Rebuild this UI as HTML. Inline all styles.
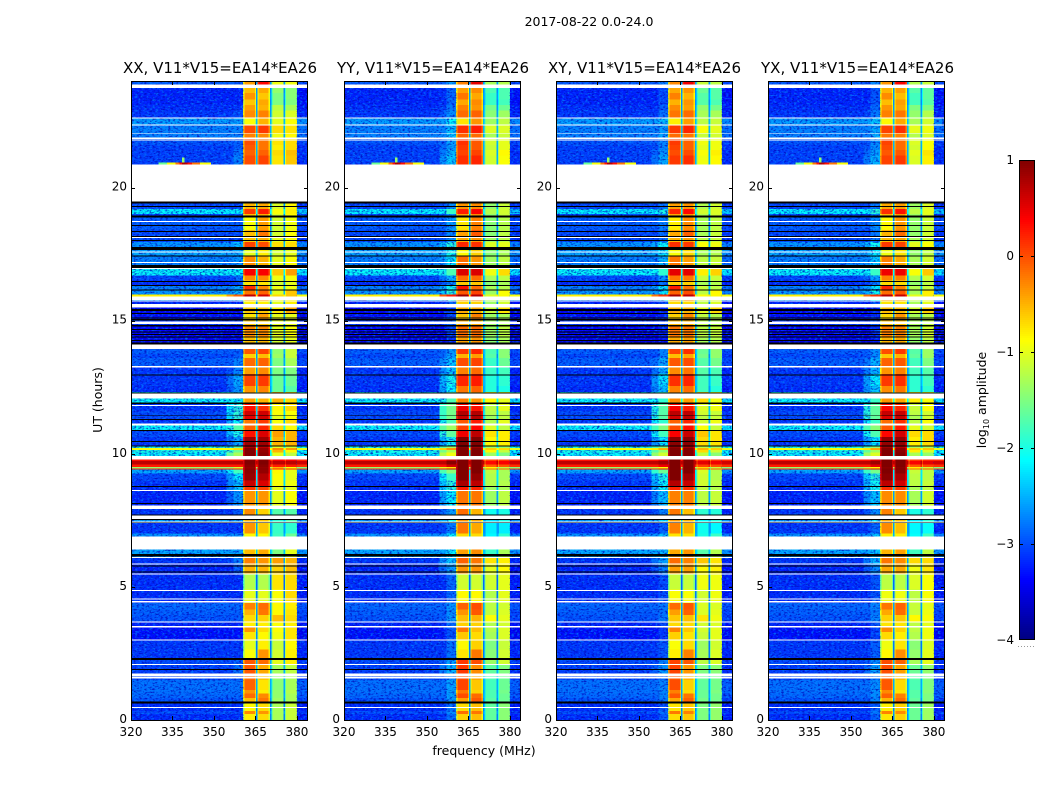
<!DOCTYPE html>
<html lang="en">
<head>
<meta charset="utf-8">
<title>2017-08-22 spectrograms</title>
<style>
html,body{margin:0;padding:0;background:#fff;}
svg{display:block;}
text{font-family:"DejaVu Sans","Liberation Sans",sans-serif;fill:#000;}
.tick{font-size:12px;}
.title{font-size:15px;}
.label{font-size:12.5px;}
</style>
</head>
<body>
<svg id="figure" xmlns="http://www.w3.org/2000/svg" width="1050" height="800" viewBox="0 0 1050 800">
  <defs>
    <filter id="speckle-light" x="0" y="0" width="1" height="1" color-interpolation-filters="sRGB">
      <feTurbulence type="fractalNoise" baseFrequency="0.34 0.6" numOctaves="2" seed="3"/>
      <feColorMatrix type="matrix" values="0 0 0 0 0  0 0 0 0 0.52  0 0 0 0 1  3.8 0 0 0 -1.85"/>
    </filter>
    <filter id="speckle-dark" x="0" y="0" width="1" height="1" color-interpolation-filters="sRGB">
      <feTurbulence type="fractalNoise" baseFrequency="0.38 0.64" numOctaves="2" seed="11"/>
      <feColorMatrix type="matrix" values="0 0 0 0 0  0 0 0 0 0.02  0 0 0 0 0.72  0 3.8 0 0 -1.85"/>
    </filter>
  </defs>
  <text x="589" y="26" text-anchor="middle" class="label">2017-08-22 0.0-24.0</text>
  <text x="484" y="755" text-anchor="middle" class="label">frequency (MHz)</text>
  <text transform="translate(102,400) rotate(-90)" text-anchor="middle" class="label">UT (hours)</text>
  <text transform="translate(986,400) rotate(-90)" text-anchor="middle" class="label">log<tspan font-size="8" dy="3">10</tspan><tspan dy="-3"> amplitude</tspan></text>
  <g id="panels"></g>
  <g id="colorbar"></g>
</svg>
<script>
// ---------- categories and tick labels ----------
const panelTitles = ["XX, V11*V15=EA14*EA26","YY, V11*V15=EA14*EA26","XY, V11*V15=EA14*EA26","YX, V11*V15=EA14*EA26"];
const xTicks = [320,335,350,365,380];
const yTicks = [0,5,10,15,20];
const colorTicks = [1,0,-1,-2,-3,-4];

// ---------- spectrogram strips: UT start hour and log10 amplitude per band ----------
const stripStart = [0,0.22,0.33,0.63,0.82,1.0,1.12,1.5,1.75,2.1,2.33,2.65,3.0,3.3,3.5,3.7,3.95,4.15,4.4,4.9,5.5,5.87,6.1,6.88,7.0,7.45,7.55,8.05,8.6,8.75,9.0,9.25,9.41,9.45,9.5,9.6,9.72,9.915,10.05,10.15,10.22,10.31,10.62,10.9,11.13,11.3,11.45,11.6,11.87,12.31,12.55,13.0,13.3,13.6,13.75,14.11,14.4,14.8,15.0,15.25,15.5,15.72,15.91,15.98,16.17,16.3,16.5,16.7,16.98,17.09,17.45,17.77,17.95,18.1,18.4,18.87,18.95,19.0,19.2,20.86,21.2,21.4,21.6,21.87,22.05,22.36,22.63,22.9,23.1,23.3,23.55,23.87];
const stripBg = [-3.05,-2.9,-3.05,-2.85,-2.75,-2.7,-2.7,-2.9,-2.95,-2.9,-3.0,-3.0,-3.2,-3.2,-3.1,-2.85,-2.8,-2.75,-3.05,-3.05,-3.1,-3.0,-2.4,-2.5,-3.0,-2.4,-3.0,-3.1,-3.05,-3.0,-2.9,-2.4,0.25,-1.4,0.25,0.7,0.3,-2.1,-2.0,-0.9,-2.0,-3.0,-2.9,-2.1,-3.0,-2.9,-2.9,-3.0,-2.1,-3.05,-3.0,-3.0,-2.8,-2.9,-2.8,-3.35,-3.25,-3.0,-3.2,-3.3,-3.1,-2.5,-0.8,-2.5,-2.6,-3.05,-2.9,-2.1,-2.6,-2.6,-2.4,-2.5,-2.9,-2.9,-2.8,-3.0,-2.9,-2.15,-2.9,-2.95,-2.95,-2.95,-2.85,-2.6,-2.6,-2.45,-3.0,-3.05,-3.1,-3.1,-3.1,-2.8];
const stripShoulder = [-2.95,-2.8,-2.95,-2.75,-2.7,-2.7,-2.7,-2.85,-2.6,-2.7,-2.95,-2.95,-3.1,-3.1,-3.0,-2.75,-2.8,-2.75,-3.0,-3.0,-2.7,-2.5,-2.4,-2.4,-2.9,-2.3,-2.7,-2.4,-2.2,-2.2,-2.1,-1.7,0.4,-1.0,0.35,0.7,0.4,-1.2,-1.5,-0.6,-1.6,-2.3,-1.9,-1.6,-2.0,-1.8,-1.8,-1.8,-2.0,-2.4,-2.3,-2.5,-2.5,-2.7,-2.7,-3.3,-3.2,-3.0,-3.2,-3.2,-3.0,-2.3,0.0,-2.2,-2.3,-2.8,-2.6,-2.0,-2.4,-2.4,-2.3,-2.2,-2.8,-2.8,-2.7,-2.9,-2.8,-2.1,-2.8,-2.5,-2.6,-2.7,-2.7,-2.5,-2.55,-2.4,-2.8,-2.9,-3.0,-3.0,-3.0,-2.7];
const stripA = [-0.8,-0.3,-0.85,-0.55,-0.15,-0.35,-0.1,-0.15,-0.05,-0.05,-0.9,-1.0,-0.75,-0.35,-0.8,-0.7,-0.5,-0.25,-1.0,-1.25,-0.5,-0.25,-0.55,-0.85,-0.35,-0.5,-0.3,-0.35,0.1,0.65,0.9,0.95,0.95,0.9,0.95,1,0.95,1,1,1,0.8,0.85,0.3,-0.1,-0.2,0.5,0.6,0.3,-0.4,-0.35,0.05,-0.4,-0.15,-0.65,-0.05,-0.55,-0.3,-0.6,-0.75,-0.6,-0.8,-0.5,0.7,-0.2,0.15,-0.75,-0.3,0.4,0.35,-0.3,-1.0,0.05,-0.6,-0.55,-0.9,-0.7,-0.55,0.1,-0.5,0,-0.1,-0.05,0,-0.25,0,-0.9,-0.3,-0.4,-0.6,-0.35,-0.55,-0.4];
const stripB = [-0.7,-0.35,-0.7,-0.2,-0.3,-0.8,-0.75,-0.6,-0.45,-0.15,-0.35,-0.8,-0.85,-0.7,-0.8,-0.65,-0.2,-0.15,-1.0,-1.25,-0.5,-0.35,-0.45,-0.85,-0.6,-0.6,-0.65,-0.35,0.05,0.55,0.75,0.9,0.95,0.9,0.95,1,0.95,0.95,0.9,0.9,0.7,0.85,0.55,0.2,0.1,0.6,0.6,0.15,-0.5,-0.25,0.1,-0.3,-0.1,-0.55,0.05,-0.5,-0.3,-0.6,-0.4,-0.6,-0.8,-0.4,0.6,-0.1,-0.3,-0.75,-0.3,0.4,0.3,-0.5,-0.8,0,-0.5,-0.2,-0.4,-0.6,-0.45,0.25,-0.45,0.05,-0.1,-0.2,-0.2,-0.3,0.1,-0.5,-0.25,-0.5,-0.45,-0.6,-0.45,0.35];
const stripC = [-1.3,-1.3,-1.3,-1.35,-1.4,-1.4,-1.45,-1.4,-1.3,-1.0,-1.1,-1.15,-0.95,-0.9,-0.9,-0.55,-0.85,-0.85,-0.9,-0.75,-0.65,-0.4,-1.5,-1.8,-1.85,-1.9,-1.7,-1.0,-1.0,-0.9,-0.9,-0.85,0.2,-0.5,0.25,0.7,0.4,-1.0,-0.5,-0.3,-1.0,-0.5,-0.4,-0.7,-0.9,-1.0,-0.9,-0.85,-0.5,-1.6,-1.6,-1.5,-1.5,-1.35,-1.4,-1.1,-1.0,-1.0,-1.0,-0.8,-1.0,-0.9,-0.7,-1.0,-0.95,-1.1,-0.95,-0.6,-0.7,-1.0,-1.1,-0.7,-1.0,-1.1,-1.1,-1.1,-1.05,-0.9,-1.05,-0.75,-0.7,-0.8,-0.75,-0.95,-0.7,-1.0,-1.1,-1.2,-1.5,-1.5,-1.4,-0.95];
const stripD = [-1.15,-1.15,-1.15,-1.3,-1.3,-1.25,-1.3,-1.3,-1.2,-0.8,-0.8,-0.85,-0.75,-0.75,-0.8,-0.7,-0.75,-0.8,-0.7,-0.7,-0.55,-0.5,-1.0,-1.6,-1.9,-1.7,-1.7,-0.9,-1.0,-0.95,-1.0,-1.0,0.2,-0.9,0.25,0.7,0.4,-1.2,-0.85,-0.4,-1.1,-0.5,-0.5,-0.9,-0.7,-0.9,-0.9,-0.7,-0.7,-1.7,-1.6,-1.5,-1.3,-1.15,-1.15,-1.0,-0.9,-1.0,-1.0,-0.45,-0.8,-0.8,-0.6,-0.6,-0.95,-1.0,-0.9,-0.4,-0.5,-0.9,-1.0,-0.7,-0.9,-0.9,-0.95,-0.9,-0.85,-0.8,-0.85,-0.6,-0.55,-0.7,-0.7,-0.85,-0.75,-0.9,-1.05,-1.3,-1.5,-1.45,-1.45,-0.95];

// ---------- flagged integrations (UT start / end hours) ----------
const whiteStart = [23.74,22.59,22.32,22.02,21.83,21.76,19.47,18.71,18.095,17.558,17.172,16.946,15.774,15.718,15.493,14.873,13.934,13.232,12.082,11.80,11.053,9.791,8.60,7.924,7.549,7.417,6.411,6.084,5.847,5.457,4.845,4.533,4.405,3.654,3.481,2.978,2.065,1.652,1.566,0.45];
const whiteEnd = [23.87,22.63,22.36,22.05,21.87,21.80,20.86,18.74,18.133,17.596,17.202,16.976,15.906,15.755,15.624,14.959,14.110,13.295,12.27,11.831,11.128,9.915,8.638,8.048,7.672,7.455,6.884,6.12,5.877,5.509,4.882,4.57,4.469,3.706,3.53,3.031,2.103,1.753,1.626,0.488];
const blackStart = [19.399,19.267,18.865,18.553,18.328,18.14,17.99,17.652,17.408,16.976,16.442,16.30,16.123,15.361,15.248,15.08,15.004,14.772,14.647,14.554,14.459,14.366,14.234,14.11,12.938,12.27,11.868,11.41,11.267,10.862,10.448,10.28,8.758,8.112,7.687,7.511,7.395,6.133,5.758,5.532,2.253,1.877,0.627];
const blackEnd = [19.466,19.305,18.948,18.591,18.366,18.178,18.028,17.765,17.446,17.089,16.48,16.338,16.169,15.436,15.286,15.118,15.061,14.835,14.685,14.584,14.497,14.396,14.272,14.171,12.976,12.307,11.932,11.436,11.305,10.892,10.478,10.31,8.788,8.15,7.725,7.549,7.425,6.234,5.81,5.57,2.328,1.915,0.687];

// ---------- per-correlation level shifts ----------
const panelShoulderShift = [-0.1,0.25,0.1,0.15];
const panelShiftA = [0,0.15,0.1,0.05];
const panelShiftB = [0,0.15,0.1,0.05];
const panelShiftC = [0,-0.35,-0.2,-0.3];
const panelShiftD = [0,-0.3,-0.25,-0.2];
const noiseFloorShift = [-0.12];

// ---------- frequency channels ----------
const channelEdges = [320,354.5,357,360.5,361,364.8,365.2,365.7,366.1,369.7,370.2,370.8,371.2,375.2,375.7,376.1,380,384];
const channelSource = ["bg","sh","sh","a","a","a","gap","b","b","b","gap","c","c","gap","d","d","bg"];
const channelTrim = [0,-0.3,0,-0.5,0,-0.4,0,-0.4,0,-0.4,0,-0.5,0,0,-0.4,0,-0.1];

// ---------- narrow burst near 339 MHz just above the 20-21 h gap ----------
const burstMhz = [330,333,336,337.5,338.5,339.5,340.5,342,345,349];
const burstLevels = [-1.6,-0.9,-0.2,0.3,0.8,0.7,0.3,-0.2,-0.9,-1.6];
const spikeMhz = [338.8];
const spikeLevels = [-1.4];

// ---------- axis functions ----------
const panelLeft = [131,344,556,768];
const panelTitleCentre = [220,433,644.5,857.5];
const panelTitleWidth = [194,192,193,193];
const plotW = 177, plotTop = 81, plotBottom = 720;
const xScale = (p, mhz) => panelLeft[p] + (mhz - 320) * plotW / 64;
const yScale = h => plotBottom - h * (plotBottom - plotTop) / 24;
const cbTop = 160, cbBottom = 640, cbLeft = 1019, cbWidth = 16;
const cbScale = v => cbBottom - (v + 4) * (cbBottom - cbTop) / 5;

const clip = v => Math.max(0, Math.min(1, v));
function jet(level) {
  const t = clip((level + 4) / 5);
  const r = clip(1.5 - Math.abs(4 * t - 3));
  const g = clip(1.5 - Math.abs(4 * t - 2));
  const b = clip(1.5 - Math.abs(4 * t - 1));
  return "rgb(" + Math.round(r * 255) + "," + Math.round(g * 255) + "," + Math.round(b * 255) + ")";
}
const NS = "http://www.w3.org/2000/svg";
function mk(tag, attrs, parent) {
  const el = document.createElementNS(NS, tag);
  for (const k in attrs) el.setAttribute(k, attrs[k]);
  parent.appendChild(el);
  return el;
}
function stripLevel(source, s, p) {
  if (source === "bg") return stripBg[s];
  if (source === "sh") return stripShoulder[s] + panelShoulderShift[p];
  if (source === "a") return stripA[s] + panelShiftA[p];
  if (source === "b") return stripB[s] + panelShiftB[p];
  if (source === "c") return stripC[s] + panelShiftC[p];
  if (source === "d") return stripD[s] + panelShiftD[p];
  return Math.max(stripBg[s], -2.8 + (stripA[s] + 1) * 0.3);
}

const panelsRoot = document.getElementById("panels");
panelTitles.forEach(function (title, p) {
  const g = mk("g", {}, panelsRoot);
  
  

  const left = panelLeft[p];

  // heatmap cells: the noise floor sits under the speckle, bright rows above it
  const cells = mk("g", {"shape-rendering": "crispEdges"}, g);
  
  
  const textureLayer = mk("g", {}, g);
  
  
  const brightCells = mk("g", {"shape-rendering": "crispEdges"}, g);
  
  

  stripStart.forEach(function (start, s) {
    const end = s + 1 < stripStart.length ? stripStart[s + 1] : 24;
    channelSource.forEach(function (source, c) {
      let level = stripLevel(source, s, p) + channelTrim[c];
      const isFloor = source === "bg" || source === "sh";
      if (source === "sh") level = Math.max(stripBg[s], level);
      if (isFloor && level < -2.2) level += noiseFloorShift[0];
      const x0 = xScale(p, channelEdges[c]);
      const x1 = xScale(p, channelEdges[c + 1]);
      const y0 = yScale(end);
      const y1 = yScale(start);
      const holder = (isFloor && level < -1.9) || !isFloor ? cells : brightCells;
      const cell = mk("rect", {x: x0, y: y0, width: x1 - x0, height: y1 - y0, fill: jet(level)}, holder);
      
      
    });
  });

  // speckle texture over the noise floor
  [["speckle-light", 0.7], ["speckle-dark", 0.75]].forEach(function (layer) {
    [[320, 360.5], [380, 384]].forEach(function (range) {
      const tex = mk("rect", {
        x: xScale(p, range[0]), y: plotTop,
        width: xScale(p, range[1]) - xScale(p, range[0]),
        height: plotBottom - plotTop,
        fill: "#000", filter: "url(#" + layer[0] + ")", opacity: layer[1]
      }, textureLayer);
      
      
    });
  });

  // burst above the gap
  burstMhz.forEach(function (mhz, i) {
    if (i === burstMhz.length - 1) return;
    const b = mk("rect", {
      x: xScale(p, mhz), y: yScale(20.93),
      width: xScale(p, burstMhz[i + 1]) - xScale(p, mhz),
      height: yScale(20.86) - yScale(20.93),
      fill: jet(burstLevels[i]), "shape-rendering": "crispEdges"
    }, g);
    
    
  });
  spikeMhz.forEach(function (mhz, i) {
    const sp = mk("rect", {
      x: xScale(p, mhz) - 1, y: yScale(21.12), width: 2.5,
      height: yScale(20.93) - yScale(21.12),
      fill: jet(spikeLevels[i]), "shape-rendering": "crispEdges"
    }, g);
    
    
  });

  // flagged rows
  whiteStart.forEach(function (h, i) {
    const r = mk("rect", {x: left, y: yScale(whiteEnd[i]), width: plotW, height: yScale(h) - yScale(whiteEnd[i]), fill: "#fff", "shape-rendering": "crispEdges"}, g);
    
    
  });
  blackStart.forEach(function (h, i) {
    const r = mk("rect", {x: left, y: yScale(blackEnd[i]), width: plotW, height: yScale(h) - yScale(blackEnd[i]), fill: "#000", "shape-rendering": "crispEdges"}, g);
    
    
  });

  // frame
  const frame = mk("rect", {x: left + 0.5, y: plotTop + 0.5, width: plotW - 1, height: plotBottom - plotTop, fill: "none", stroke: "#000", "stroke-width": 1, "shape-rendering": "crispEdges"}, g);
  
  

  // x ticks
  xTicks.forEach(function (t) {
    const x = Math.round(xScale(p, t)) + 0.5;
    const tb = mk("line", {x1: x, x2: x, y1: plotBottom, y2: plotBottom - 4, stroke: "#000", "stroke-width": 1}, g);
    
    
    const tt = mk("line", {x1: x, x2: x, y1: plotTop, y2: plotTop + 4, stroke: "#000", "stroke-width": 1}, g);
    
    
    const lab = mk("text", {x: xScale(p, t), y: 736, "text-anchor": "middle", "class": "tick"}, g);
    
    
    lab.textContent = String(t);
  });

  // y ticks
  yTicks.forEach(function (t) {
    const y = Math.round(yScale(t)) + 0.5;
    const tl = mk("line", {x1: left, x2: left + 4, y1: y, y2: y, stroke: "#000", "stroke-width": 1}, g);
    
    
    const tr = mk("line", {x1: left + plotW, x2: left + plotW - 4, y1: y, y2: y, stroke: "#000", "stroke-width": 1}, g);
    
    
    const lab = mk("text", {x: left - 4, y: yScale(t) + 3, "text-anchor": "end", "class": "tick"}, g);
    
    
    lab.textContent = String(t);
  });

  // title
  const head = mk("text", {x: panelTitleCentre[p], y: 73, "text-anchor": "middle", "class": "title", textLength: panelTitleWidth[p], lengthAdjust: "spacingAndGlyphs"}, g);
  
  
  head.textContent = title;
});

// ---------- colorbar ----------
const cbRoot = document.getElementById("colorbar");
for (let y = cbTop; y < cbBottom; y += 2) {
  const level = -4 + (cbBottom - y - 1) * 5 / (cbBottom - cbTop);
  const seg = mk("rect", {x: cbLeft, y: y, width: cbWidth, height: 2, fill: jet(level), "shape-rendering": "crispEdges"}, cbRoot);
  
  
}
const cbFrame = mk("rect", {x: cbLeft + 0.5, y: cbTop + 0.5, width: cbWidth - 1, height: cbBottom - cbTop - 1, fill: "none", stroke: "#000", "stroke-width": 1, "shape-rendering": "crispEdges"}, cbRoot);


colorTicks.forEach(function (t) {
  const y = Math.min(cbBottom - 0.5, Math.round(cbScale(t)) + 0.5);
  const a = mk("line", {x1: cbLeft, x2: cbLeft + 4, y1: y, y2: y, stroke: "#000", "stroke-width": 1}, cbRoot);
  
  
  const b = mk("line", {x1: cbLeft + cbWidth, x2: cbLeft + cbWidth - 4, y1: y, y2: y, stroke: "#000", "stroke-width": 1}, cbRoot);
  
  
  const lab = mk("text", {x: cbLeft - 5, y: cbScale(t) + 4, "text-anchor": "end", "class": "tick"}, cbRoot);
  
  
  lab.textContent = (t < 0 ? "\u2212" + Math.abs(t) : String(t));
});
const dots = mk("line", {x1: cbLeft - 1, x2: cbLeft + cbWidth, y1: 646.5, y2: 646.5, stroke: "#999", "stroke-width": 1, "stroke-dasharray": "1 2"}, cbRoot);


</script>
</body>
</html>
